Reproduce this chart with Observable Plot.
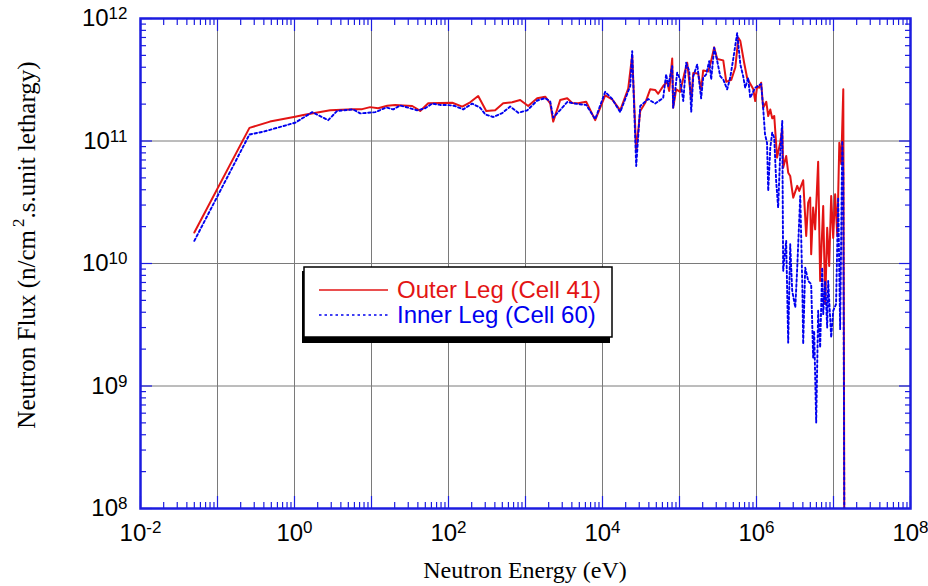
<!DOCTYPE html>
<html><head><meta charset="utf-8">
<script src="https://cdn.jsdelivr.net/npm/d3@7"></script>
<script src="https://cdn.jsdelivr.net/npm/@observablehq/plot@0.6"></script>
<style>
body{margin:0;background:#fff;}
#chart svg{display:block;}
</style></head><body><div id="chart"></div>
<script>
// ---- data (neutron energy in eV, flux in n/cm^2.s.unit lethargy) ----
const outerEnergy = [0.05, 0.26, 0.48, 1.02, 1.3, 2.91, 5.78, 7.57, 9.6, 12.2, 16.0, 20.3, 25.8, 33.8, 42.9, 54.5, 78, 112, 151, 191, 243, 309, 404, 513, 671, 853, 1084, 1419, 1803, 2094, 2290, 2823, 3480, 4040, 4830, 6140, 8040, 10840, 13370, 16980, 21570, 24300, 27400, 30900, 35900, 41600, 48300, 52900, 61400, 69200, 73500, 80400, 82800, 90600, 1.02e5, 1.15e5, 1.26e5, 1.42e5, 1.51e5, 1.75e5, 1.91e5, 2.03e5, 2.36e5, 2.58e5, 2.82e5, 3.09e5, 3.70e5, 4.05e5, 4.71e5, 5.31e5, 5.81e5, 6.17e5, 6.92e5, 7.57e5, 9.06e5, 9.62e5, 1.02e6, 1.08e6, 1.15e6, 1.22e6, 1.34e6, 1.42e6, 1.51e6, 1.60e6, 1.70e6, 1.85e6, 2.03e6, 2.16e6, 2.22e6, 2.43e6, 2.58e6, 2.74e6, 2.91e6, 3.00e6, 3.38e6, 3.59e6, 4.04e6, 4.42e6, 4.69e6, 4.98e6, 5.13e6, 5.44e6, 5.78e6, 6.32e6, 6.71e6, 7.35e6, 7.80e6, 8.28e6, 8.79e6, 9.33e6, 9.91e6, 1.05e7, 1.12e7, 1.19e7, 1.26e7, 1.34e7, 1.38e7];
const outerFlux = [1.79e10, 1.28e11, 1.44e11, 1.58e11, 1.63e11, 1.78e11, 1.82e11, 1.82e11, 1.89e11, 1.85e11, 1.94e11, 1.97e11, 1.95e11, 1.93e11, 1.76e11, 2.03e11, 2.04e11, 2.05e11, 1.91e11, 2.07e11, 2.33e11, 1.76e11, 1.78e11, 2.03e11, 2.07e11, 2.16e11, 1.93e11, 2.23e11, 2.30e11, 2.03e11, 1.44e11, 2.16e11, 2.23e11, 2.04e11, 2.03e11, 2.09e11, 1.48e11, 2.36e11, 2.19e11, 1.78e11, 2.68e11, 5.02e11, 8.3e10, 1.76e11, 2.05e11, 2.64e11, 2.61e11, 2.43e11, 2.81e11, 3.05e11, 2.56e11, 4.71e11, 1.87e11, 2.64e11, 2.52e11, 3.50e11, 4.35e11, 2.19e11, 3.59e11, 3.55e11, 2.61e11, 3.77e11, 3.70e11, 4.53e11, 5.81e11, 4.67e11, 4.55e11, 3.04e11, 3.16e11, 3.99e11, 6.96e11, 6.54e11, 4.33e11, 3.25e11, 2.66e11, 2.12e11, 2.81e11, 2.72e11, 2.99e11, 1.87e11, 2.09e11, 1.60e11, 1.81e11, 1.53e11, 1.60e11, 7.31e10, 9.68e10, 1.25e11, 6.06e10, 7.55e10, 5.51e10, 5.18e10, 3.91e10, 3.45e10, 4.30e10, 3.91e10, 4.78e10, 1.68e10, 3.14e10, 3.45e10, 1.19e10, 2.86e10, 1.90e10, 6.78e10, 7.21e9, 2.95e10, 4.66e9, 1.96e10, 9.56e9, 3.56e10, 1.62e10, 3.67e10, 1.68e10, 9.68e10, 6.46e10, 2.64e11, 1e8];
const innerEnergy = [0.05, 0.26, 0.392, 1.02, 1.70, 2.74, 3.58, 5.78, 7.13, 11.2, 15.5, 19.1, 23.6, 30.0, 39.2, 49.8, 61.4, 78, 96.2, 122, 155, 203, 258, 300, 381, 498, 632, 804, 1052, 1419, 1803, 2094, 2290, 3000, 3480, 4830, 6140, 8040, 10840, 13370, 16980, 22900, 24300, 27400, 30900, 39200, 48300, 61400, 67100, 71300, 80400, 82800, 93300, 1.02e5, 1.12e5, 1.22e5, 1.34e5, 1.42e5, 1.51e5, 1.70e5, 1.91e5, 2.03e5, 2.22e5, 2.43e5, 2.58e5, 2.82e5, 3.09e5, 3.38e5, 3.70e5, 4.16e5, 4.55e5, 4.98e5, 5.61e5, 6.17e5, 6.71e5, 7.13e5, 7.80e5, 8.28e5, 9.62e5, 1.15e6, 1.22e6, 1.29e6, 1.37e6, 1.42e6, 1.51e6, 1.60e6, 1.70e6, 1.80e6, 1.91e6, 2.03e6, 2.16e6, 2.22e6, 2.43e6, 2.58e6, 2.74e6, 2.91e6, 3.19e6, 3.38e6, 3.70e6, 3.94e6, 4.04e6, 4.29e6, 4.69e6, 5.13e6, 5.44e6, 5.61e6, 5.96e6, 6.32e6, 6.71e6, 7.13e6, 7.35e6, 7.80e6, 8.28e6, 8.53e6, 9.33e6, 9.91e6, 1.08e7, 1.15e7, 1.22e7, 1.30e7, 1.34e7, 1.38e7];
const innerFlux = [1.53e10, 1.13e11, 1.19e11, 1.41e11, 1.72e11, 1.48e11, 1.76e11, 1.81e11, 1.68e11, 1.72e11, 1.88e11, 1.81e11, 1.95e11, 1.87e11, 1.78e11, 1.85e11, 2.02e11, 1.97e11, 1.97e11, 1.93e11, 1.81e11, 2.02e11, 1.87e11, 1.65e11, 1.57e11, 1.69e11, 1.91e11, 1.70e11, 1.78e11, 2.14e11, 2.24e11, 2.10e11, 1.55e11, 1.87e11, 2.08e11, 2.00e11, 1.97e11, 1.51e11, 2.52e11, 2.20e11, 1.72e11, 2.81e11, 5.42e11, 6.25e10, 1.93e11, 2.20e11, 2.02e11, 2.25e11, 3.50e11, 2.81e11, 4.09e11, 1.87e11, 3.61e11, 3.18e11, 2.12e11, 4.35e11, 3.72e11, 1.73e11, 3.38e11, 4.22e11, 2.23e11, 3.28e11, 3.50e11, 4.49e11, 3.18e11, 5.77e11, 4.49e11, 3.38e11, 3.18e11, 2.64e11, 3.28e11, 4.64e11, 7.60e11, 4.22e11, 3.38e11, 2.72e11, 3.28e11, 2.25e11, 2.72e11, 2.92e11, 1.87e11, 1.13e11, 9.68e10, 3.91e10, 8.81e10, 1.17e11, 1.06e11, 4.72e10, 2.86e10, 7.79e10, 1.46e11, 8.70e9, 1.53e10, 2.26e9, 1.44e10, 5.98e9, 4.37e9, 9.26e9, 3.56e10, 6.36e9, 2.20e9, 9.26e9, 7.21e9, 6.78e9, 1.71e9, 2.82e9, 5.04e8, 4.11e9, 2.06e9, 9.26e9, 3.86e9, 7.21e9, 3.00e9, 7.21e9, 2.49e9, 4.11e9, 4.66e9, 3.45e10, 2.91e9, 1.00e11, 5.38e10, 1e8];
const xDecades = [1e-2, 1e-1, 1e0, 1e1, 1e2, 1e3, 1e4, 1e5, 1e6, 1e7, 1e8];
const yDecades = [1e8, 1e9, 1e10, 1e11, 1e12];
const xLabelDecades = [1e-2, 1e0, 1e2, 1e4, 1e6, 1e8];
const seriesNames = ["Outer Leg (Cell 41)", "Inner Leg (Cell 60)"];
const xTitle = "Neutron Energy (eV)";

// ---- build ----
const outer = outerEnergy.map((e, i) => ({energy: e, flux: outerFlux[i]}));
const inner = innerEnergy.map((e, i) => ({energy: e, flux: innerFlux[i]}));
const minorOf = decades => decades.slice(0, -1).flatMap(d => [2,3,4,5,6,7,8,9].map(m => m * d));
const xMinor = minorOf(xDecades);
const yMinor = minorOf(yDecades);

const RED = "#e31414";
const BLUE = "#0000f0";
const FRAME = "#1c1ce0";
const W = 928, H = 586, ML = 140, MR = 18, MT = 18, MB = 78;

const tickAxes = [];
for (const anchor of ["bottom", "top"]) {
  tickAxes.push(Plot.axisX(xMinor, {anchor, tickSize: -6, stroke: FRAME, strokeWidth: 1.2, fill: "none", label: null}));
  tickAxes.push(Plot.axisX(xDecades, {anchor, tickSize: -12, stroke: FRAME, strokeWidth: 1.2, fill: "none", label: null}));
}
for (const anchor of ["left", "right"]) {
  tickAxes.push(Plot.axisY(yMinor, {anchor, tickSize: -6, stroke: FRAME, strokeWidth: 1.2, fill: "none", label: null}));
  tickAxes.push(Plot.axisY(yDecades, {anchor, tickSize: -12, stroke: FRAME, strokeWidth: 1.2, fill: "none", label: null}));
}

const expOf = d => String(Math.round(Math.log10(d)));

const plot = Plot.plot({
  width: W, height: H,
  marginLeft: ML, marginRight: MR, marginTop: MT, marginBottom: MB,
  style: {fontFamily: "'Liberation Sans', Arial, sans-serif", background: "#fff", color: "#000"},
  x: {type: "log", domain: [1e-2, 1e8], label: null},
  y: {type: "log", domain: [1e8, 1e12], label: null},
  marks: [
    Plot.gridX(xDecades, {stroke: "#7a7a7a", strokeOpacity: 1, strokeWidth: 1}),
    Plot.gridY(yDecades, {stroke: "#7a7a7a", strokeOpacity: 1, strokeWidth: 1}),
    Plot.line(outer, {x: "energy", y: "flux", stroke: RED, strokeWidth: 2, clip: true}),
    Plot.line(inner, {x: "energy", y: "flux", stroke: BLUE, strokeWidth: 1.9, strokeDasharray: "2.5,2.5", clip: true}),
    ...tickAxes,
    Plot.axisX(xLabelDecades, {anchor: "bottom", tickSize: 0, tickPadding: 15, fontSize: 24, tickFormat: expOf, label: null}),
    Plot.axisY(yDecades, {anchor: "left", tickSize: 0, tickPadding: 13, fontSize: 24, tickFormat: expOf, label: null}),
    Plot.frame({stroke: FRAME, strokeWidth: 2.5})
  ]
});

document.getElementById("chart").append(plot);
const svg = d3.select(plot);

// superscript exponents on tick labels
svg.selectAll('g[aria-label="x-axis tick label"] text, g[aria-label="y-axis tick label"] text').each(function () {
  const t = d3.select(this);
  const e = t.text();
  t.text("10");
  t.append("tspan").attr("font-size", 17).attr("dy", "-0.42em").text(e);
});

// axis titles
const cx = (ML + W - MR) / 2, cy = (MT + H - MB) / 2;
svg.append("text")
  .attr("x", cx).attr("y", H - 8)
  .attr("text-anchor", "middle")
  .attr("font-family", "'Liberation Serif', 'Times New Roman', serif")
  .attr("font-size", 24).attr("fill", "#000")
  .text(xTitle);
const yt = svg.append("text")
  .attr("transform", `translate(35,${cy - 18}) rotate(-90)`)
  .attr("text-anchor", "middle")
  .attr("font-family", "'Liberation Serif', 'Times New Roman', serif")
  .attr("font-size", 25).attr("fill", "#000");
yt.append("tspan").text("Neutron Flux (n/cm");
yt.append("tspan").attr("font-size", 17).attr("dy", -11).attr("dx", 3).text("2");
yt.append("tspan").attr("dy", 11).text(".s.unit lethargy)");

// legend
const lg = svg.append("g").attr("text-anchor", "start");
const bx = 304, by = 267, bw = 308, bh = 70;
lg.append("rect").attr("x", bx - 2).attr("y", by + 4).attr("width", bw).attr("height", bh + 2).attr("fill", "#000");
lg.append("rect").attr("x", bx).attr("y", by).attr("width", bw).attr("height", bh).attr("fill", "#fff").attr("stroke", "#000").attr("stroke-width", 1.5);
const rows = [{name: seriesNames[0], color: RED, dash: null}, {name: seriesNames[1], color: BLUE, dash: "2.5,3"}];
rows.forEach((r, i) => {
  const y = by + 23 + i * 25;
  lg.append("line").attr("x1", bx + 15).attr("x2", bx + 84).attr("y1", y).attr("y2", y)
    .attr("stroke", r.color).attr("stroke-width", 1.3).attr("stroke-dasharray", r.dash);
  lg.append("text").attr("x", bx + 93).attr("y", y + 8)
    .attr("text-anchor", "start")
    .attr("font-family", "'Liberation Sans', Arial, sans-serif").attr("font-size", 24)
    .attr("fill", r.color).text(r.name);
});
</script></body></html>
